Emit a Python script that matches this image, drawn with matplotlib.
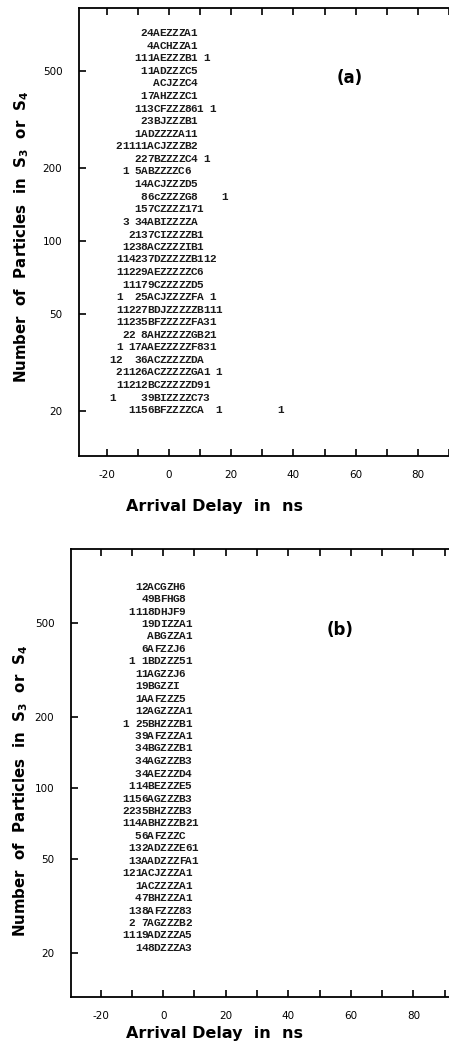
import matplotlib.pyplot as plt
from matplotlib.ticker import FixedLocator, NullLocator, NullFormatter

plt.rcParams['mathtext.default'] = 'bf'
plt.rcParams['axes.unicode_minus'] = False

# character plot: column j of a row is the 2 ns bin centred on delay_start + 2*j
delay_start = -18
bin_width = 2

rows_a = [
    "     24AEZZZA1",
    "      4ACHZZA1",
    "    111AEZZZB1 1",
    "     11ADZZZC5",
    "       ACJZZC4",
    "     17AHZZZC1",
    "    113CFZZZ861 1",
    "     23BJZZZB1",
    "    1ADZZZZA11",
    " 21111ACJZZZB2",
    "    227BZZZZC4 1",
    "  1 5ABZZZZC6",
    "    14ACJZZZD5",
    "     86cZZZZG8    1",
    "    157CZZZZ171",
    "  3 34ABIZZZZA",
    "   2137CIZZZZB1",
    "  1238ACZZZZIB1",
    " 114237DZZZZZB112",
    " 11229AEZZZZZC6",
    "  11179CZZZZZD5",
    " 1  25ACJZZZZFA 1",
    " 11227BDJZZZZZB111",
    " 11235BFZZZZZFA31",
    "  22 8AHZZZZZGB21",
    " 1 17AAEZZZZZF831",
    "12  36ACZZZZZDA",
    " 21126ACZZZZZGA1 1",
    " 11212BCZZZZZD91",
    "1    39BIZZZZC73",
    "   1156BFZZZZCA  1         1",
]
# number of particles of each line (S3 or S4)
n_a = [715, 634, 563, 500, 444, 394, 350, 311, 276, 245, 217, 193, 171, 152, 135, 120,
       106, 94.4, 83.8, 74.4, 66.0, 58.6, 52.0, 46.2, 41.0, 36.4, 32.3, 28.7, 25.5, 22.6, 20.1]

rows_b = [
    "     12ACGZH6",
    "      49BFHG8",
    "    1118DHJF9",
    "      19DIZZA1",
    "       ABGZZA1",
    "      6AFZZJ6",
    "    1 1BDZZZ51",
    "     11AGZZJ6",
    "     19BGZZI",
    "     1AAFZZZ5",
    "     12AGZZZA1",
    "   1 25BHZZZB1",
    "     39AFZZZA1",
    "     34BGZZZB1",
    "     34AGZZZB3",
    "     34AEZZZD4",
    "    114BEZZZE5",
    "   1156AGZZZB3",
    "   2235BHZZZB3",
    "   114ABHZZZB21",
    "     56AFZZZC",
    "    132ADZZZE61",
    "    13AADZZZFA1",
    "   121ACJZZZA1",
    "     1ACZZZZA1",
    "     47BHZZZA1",
    "    138AFZZZ83",
    "    2 7AGZZZB2",
    "   1119ADZZZA5",
    "     148DZZZA3",
]
n_b = [711, 630, 558, 494, 438, 387, 343, 304, 269, 239, 211, 187, 166, 147, 130, 115,
       102, 90.3, 80.0, 70.9, 62.8, 55.6, 49.2, 43.6, 38.6, 34.2, 30.3, 26.9, 23.8, 21.1]

y_ticks = [20, 50, 100, 200, 500]
x_major = [-20, 0, 20, 40, 60, 80]
x_minor = [-10, 10, 30, 50, 70, 90]

fig = plt.figure(figsize=(4.49, 10.5), dpi=100)


def panel(rect, rows, nvals, xlim, ylim, tag, tagpos, xlab_pos, ylab_pos):
    ax = fig.add_axes(rect)
    ax.set_yscale('log')
    ax.set_xlim(*xlim)
    ax.set_ylim(*ylim)
    for s, n in zip(rows, nvals):
        for j, ch in enumerate(s):
            if ch != ' ':
                ax.text(delay_start + bin_width * j, n, ch, ha='center', va='center',
                        family='Liberation Mono', weight='bold', fontsize=8, color='#1a1a1a')
    ax.yaxis.set_major_locator(FixedLocator(y_ticks))
    ax.yaxis.set_minor_locator(NullLocator())
    ax.yaxis.set_minor_formatter(NullFormatter())
    ax.set_yticklabels([str(t) for t in y_ticks])
    ax.set_xticks(x_major)
    ax.set_xticks(x_minor, minor=True)
    ax.tick_params(axis='both', which='both', direction='in', length=5, width=1.2,
                   labelsize=7.5, top=True, right=False)
    ax.tick_params(axis='x', pad=10)
    ax.tick_params(axis='y', pad=12)
    ax.spines['right'].set_visible(False)
    for sp in ['left', 'bottom', 'top']:
        ax.spines[sp].set_linewidth(1.3)
    ax.set_xlabel('Arrival Delay  in  ns', fontsize=11.5, weight='bold')
    ax.xaxis.set_label_coords(*xlab_pos)
    ax.set_ylabel('Number  of  Particles  in  S$_3$  or  S$_4$', fontsize=10.8,
                  weight='bold')
    ax.yaxis.set_label_coords(*ylab_pos)
    ax.text(tagpos[0], tagpos[1], tag, transform=ax.transAxes, fontsize=12,
            weight='bold', ha='center', va='center')
    return ax


panel([79 / 449, 1 - 456 / 1050, 1 - 79 / 449, 448 / 1050], rows_a, n_a,
      (-28.9, 89.4), (13.0, 908), '(a)', (0.732, 0.844), (0.365, -0.095), (-0.13, 0.49))
panel([71 / 449, 1 - 996.7 / 1050, 1 - 71 / 449, 447.4 / 1050], rows_b, n_b,
      (-29.5, 91.4), (13.1, 1023), '(b)', (0.712, 0.82), (0.38, -0.065), (-0.108, 0.46))

fig.savefig('out.png', dpi=100)
plt.close(fig)
